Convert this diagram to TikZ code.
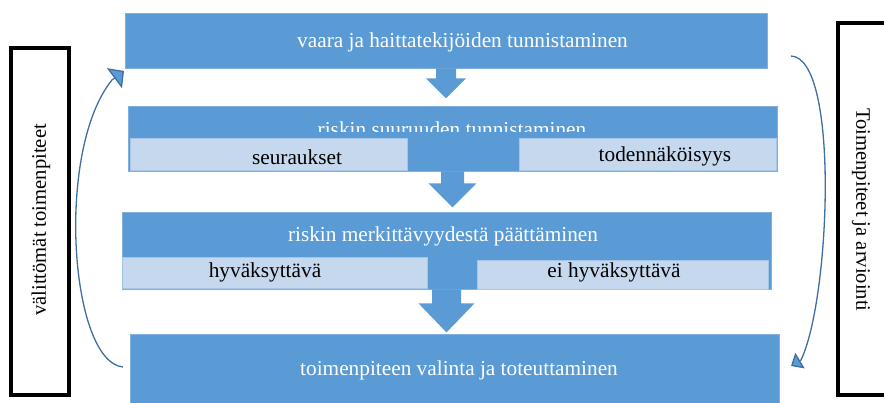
\documentclass[tikz,border=0pt]{standalone}
\usepackage{fontspec}
\setmainfont{Liberation Serif}
\usetikzlibrary{arrows.meta,calc}
\definecolor{mainblue}{HTML}{5B9BD5}
\definecolor{edgeblue}{HTML}{7FB0E0}
\definecolor{lightfill}{HTML}{C6D8EE}
\definecolor{lightedge}{HTML}{A4C5E8}
\definecolor{curveblue}{HTML}{3F6FA0}
\begin{document}
\begin{tikzpicture}[x=1pt,y=-1pt,
  mainbox/.style={fill=mainblue,draw=edgeblue,line width=0.8pt,inner sep=0pt},
  lightbox/.style={fill=lightfill,draw=lightedge,line width=0.8pt,inner sep=0pt},
  blockarr/.style={fill=mainblue},
  wlabel/.style={text=white,font=\fontsize{21.3}{25}\selectfont,anchor=base,inner sep=0pt},
  blabel/.style={text=black,font=\fontsize{21.3}{25}\selectfont,anchor=base,inner sep=0pt},
  sidelabel/.style={text=black,font=\fontsize{20.6}{25}\selectfont,inner sep=0pt},
  frame/.style={draw=black,line width=4pt,inner sep=0pt},
  curve/.style={draw=curveblue,line width=1.3pt}]
\useasboundingbox (0,0) rectangle (884,403);

% main boxes
\node[mainbox,minimum width=642,minimum height=55] (b1) at (446,40.5) {};
\node[mainbox,minimum width=649,minimum height=65] (b2) at (452.5,138.5) {};
\node[mainbox,minimum width=649,minimum height=77] (b3) at (446.5,250.5) {};
\node[mainbox,minimum width=649,minimum height=80] (b4) at (454.5,374) {};

% light sub boxes
\node[lightbox,minimum width=277,minimum height=32] (s1) at (268.5,154) {};
\node[lightbox,minimum width=257,minimum height=32] (s2) at (647.5,154) {};
\node[lightbox,minimum width=305,minimum height=31] (s3) at (274.5,272.5) {};
\node[lightbox,minimum width=291,minimum height=29] (s4) at (622.5,274.5) {};

% block arrows
\fill[blockarr] ($(b1.south)+(-10,0)$) -- ++(20,0) -- ++(0,10) -- ++(10,0) -- ++(-20,20) -- ++(-20,-20) -- ++(10,0) -- cycle;
\fill[blockarr] ($(b2.south)+(-11.5,0)$) -- ++(23,0) -- ++(0,12) -- ++(12.5,0) -- ++(-24,24) -- ++(-24,-24) -- ++(12.5,0) -- cycle;
\fill[blockarr] ($(b3.south)+(-14.5,0)$) -- ++(29,0) -- ++(0,14) -- ++(13.5,0) -- ++(-28,29) -- ++(-28,-29) -- ++(13.5,0) -- cycle;

% texts
\node[wlabel] (t1) at (462.5,48) {vaara ja haittatekijöiden tunnistaminen};
\begin{scope}
  \clip (128,106) rectangle (777,132);
  \node[wlabel] (t2) at (452,136.5) {riskin suuruuden tunnistaminen};
\end{scope}
\node[blabel] (l1) at (297,165) {seuraukset};
\node[blabel] (l2) at (665,162) {todennäköisyys};
\node[wlabel] (t3) at (443,242) {riskin merkittävyydestä päättäminen};
\node[blabel] (l3) at (265,278) {hyväksyttävä};
\node[blabel] (l4) at (614,278) {ei hyväksyttävä};
\node[wlabel] (t4) at (459,376) {toimenpiteen valinta ja toteuttaminen};

% side frames
\node[frame,minimum width=58,minimum height=347] (lf) at (40,221.5) {};
\node[frame,minimum width=82,minimum height=372] (rf) at (879,209) {};
\node[sidelabel,rotate=90] (lt) at (41,220) {välittömät toimenpiteet};
\node[sidelabel,rotate=-90] (rt) at (861,210) {Toimenpiteet ja arviointi};

% curved arrows
\coordinate (ls) at (123,367);
\coordinate (lb) at (112,80);
\coordinate (le) at (124,71);
\draw[curve,-{Triangle[length=12pt,width=25pt,fill=mainblue]}]
  (ls) .. controls (70,362) and (55,150) .. (lb) -- (le);
\coordinate (rs) at (791,56);
\coordinate (rb) at (801,360);
\coordinate (re) at (791,366);
\draw[curve,-{Triangle[length=10.5pt,width=18pt,fill=mainblue]}]
  (rs) .. controls (840,58) and (830,300) .. (rb) -- (re);
\end{tikzpicture}
\end{document}
